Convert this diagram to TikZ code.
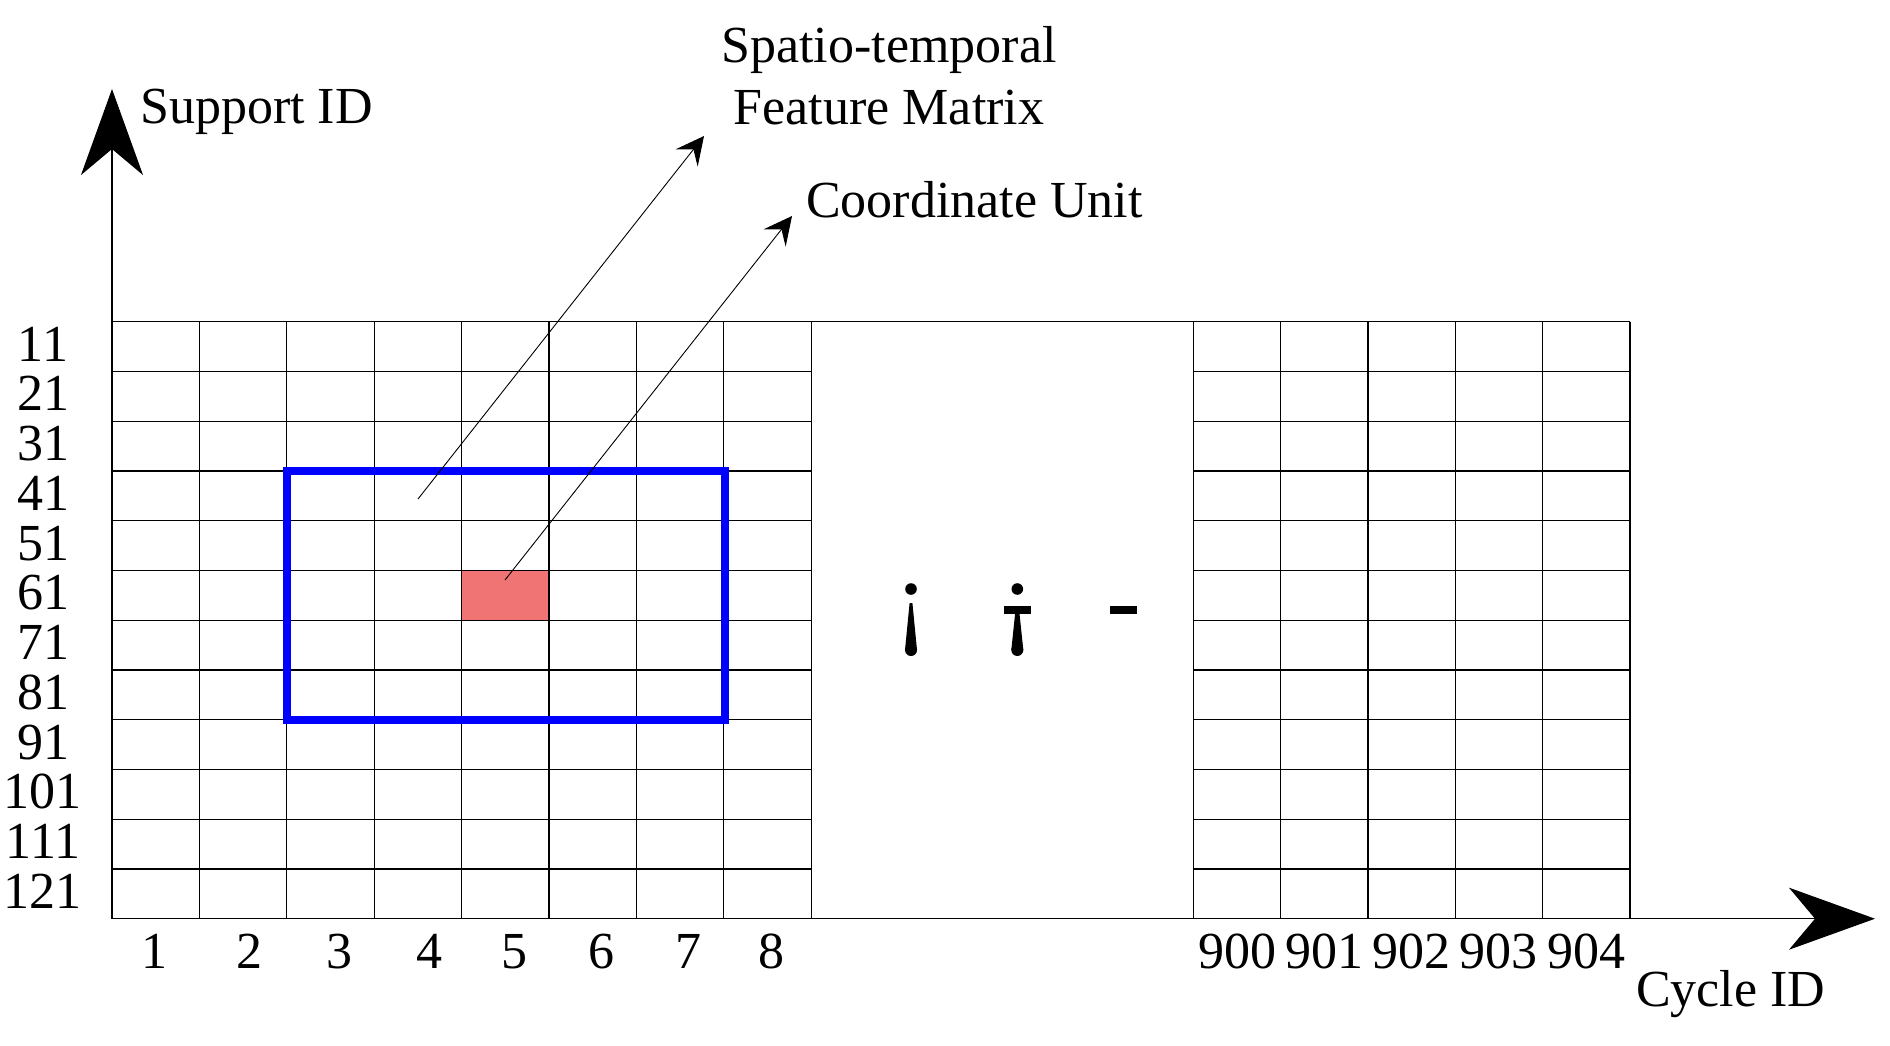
\documentclass[tikz,border=0pt]{standalone}
\usepackage{fontspec}
\setmainfont{Liberation Serif}
\usetikzlibrary{arrows.meta}
\definecolor{cellred}{RGB}{240,116,116}
\begin{document}
\begin{tikzpicture}[x=1pt,y=-1pt,
  gridline/.style={line width=1.2pt},
  axisline/.style={line width=1.3pt,-{Stealth[length=86pt,width=62pt,inset=26pt]}},
  leader/.style={line width=0.9pt,-{Stealth[length=28pt,width=28pt,inset=11pt]}},
  lbl/.style={inner sep=0pt,font=\fontsize{52}{62}\selectfont},
  window/.style={draw=blue,line width=8pt},
  glyph/.style={fill=black}]
\useasboundingbox (0,0) rectangle (1890,1045);
% highlighted coordinate unit
\fill[cellred] (461.6,570.45) rectangle (549,620.2);
% left block
\foreach \i in {1,...,8}
  \draw[gridline] ({112+\i*87.4},321.7) -- ({112+\i*87.4},918.7);
\foreach \k in {1,...,11}
  \draw[gridline] (112,{321.7+\k*49.75}) -- (811.2,{321.7+\k*49.75});
% right block
\foreach \j in {0,...,5}
  \draw[gridline] ({1193.4+\j*87.3},321.7) -- ({1193.4+\j*87.3},918.7);
\foreach \k in {1,...,11}
  \draw[gridline] (1193.4,{321.7+\k*49.75}) -- (1629.9,{321.7+\k*49.75});
% top line
\draw[gridline] (112,321.7) -- (1629.9,321.7);
% axes
\coordinate (O) at (112,918.7);
\coordinate (ytip) at (112,89);
\coordinate (xtip) at (1875,918.7);
\draw[axisline] (O) -- (ytip);
\draw[axisline] (O) -- (xtip);
% window
\draw[window] (286.8,470.95) rectangle (724.8,719.7);
% axis labels
\node[lbl,anchor=base west] (ylab) at (140,123) {Support ID};
\node[lbl,anchor=base west] (xlab) at (1636,1006) {Cycle ID};
\foreach \lab [count=\k] in {11,21,31,41,51,61,71,81,91,101,111,121}
  \node[lbl,anchor=base] (r\k) at (43,{321.7+(\k-0.5)*49.75+14.5}) {\lab};
\foreach \lab/\xx [count=\k] in {1/154.3,2/249.5,3/339.9,4/429.1,5/514.7,6/601.5,7/688.3,8/771.5}
  \node[lbl,anchor=base] (c\k) at (\xx,968) {\lab};
\foreach \lab [count=\k] in {900,901,902,903,904}
  \node[lbl,anchor=base] (d\k) at ({1193.4+(\k-0.5)*87.3},968) {\lab};
% callouts
\node[lbl,align=center] (stfm) at (889,76) {Spatio-temporal\\Feature Matrix};
\node[lbl,anchor=base west] (cu) at (806,217) {Coordinate Unit};
\coordinate (stfmS) at (418,499);
\coordinate (stfmE) at (704,136);
\coordinate (cuS) at (505,580);
\coordinate (cuE) at (792,216);
\draw[leader] (stfmS) -- (stfmE);
\draw[leader] (cuS) -- (cuE);
% ellipsis glyphs in the gap
\fill[glyph] (911,589) circle[radius=5.8];
\fill[glyph] (909.6,603) -- (912.4,603) -- (917,650) -- (905,650) -- cycle;
\fill[glyph] (911,650) circle[radius=6];
\fill[glyph] (1017.3,589) circle[radius=5.8];
\fill[glyph] (1004,606) rectangle (1031,614);
\fill[glyph] (1015.9,606) -- (1018.7,606) -- (1023.3,650) -- (1011.3,650) -- cycle;
\fill[glyph] (1017.3,650) circle[radius=6];
\fill[glyph] (1110,606) rectangle (1136.7,614);
\end{tikzpicture}
\end{document}
